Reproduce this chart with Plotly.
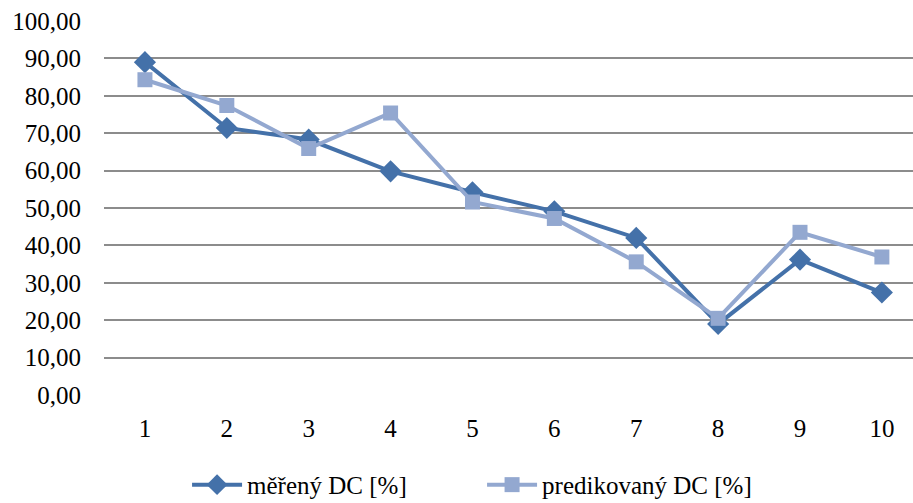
import plotly.graph_objects as go

# Sample index and duty-cycle series
samples = [1, 2, 3, 4, 5, 6, 7, 8, 9, 10]
measured_dc = [89.0, 71.4, 68.3, 59.8, 54.2, 49.1, 42.0, 19.0, 36.2, 27.4]
predicted_dc = [84.3, 77.4, 65.9, 75.4, 51.6, 47.2, 35.6, 20.5, 43.5, 36.9]
y_ticks = [0, 10, 20, 30, 40, 50, 60, 70, 80, 90, 100]

DARK = "#4471A9"
LIGHT = "#93A8D0"
TEXT_FONT = dict(family="Liberation Serif", size=25, color="black")

fig = go.Figure()
fig.add_trace(go.Scatter(
    x=samples, y=measured_dc, name="měřený DC [%]", mode="lines+markers",
    line=dict(color=DARK, width=4),
    marker=dict(symbol="diamond", size=17, color=DARK),
))
fig.add_trace(go.Scatter(
    x=samples, y=predicted_dc, name="predikovaný DC [%]", mode="lines+markers",
    line=dict(color=LIGHT, width=4),
    marker=dict(symbol="square", size=15, color=LIGHT),
))

fig.update_layout(
    width=913, height=503,
    margin=dict(l=104, r=0, t=21, b=108, autoexpand=False),
    paper_bgcolor="white", plot_bgcolor="white",
    separators=",.",
    font=TEXT_FONT,
    showlegend=True,
    legend=dict(
        orientation="h", xref="container", x=0.528, xanchor="center",
        yref="container", y=0.036, yanchor="middle",
        font=TEXT_FONT, itemwidth=50, tracegroupgap=0,
        entrywidth=230, entrywidthmode="pixels",
    ),
)
fig.update_xaxes(
    range=[0.5, 10.38], tickvals=samples, ticktext=[str(s) for s in samples],
    showgrid=False, zeroline=False, showline=False, ticks="",
    tickfont=TEXT_FONT, ticklabelstandoff=16,
)
fig.update_yaxes(
    range=[0, 100], tickvals=y_ticks, tickformat=".2f",
    showgrid=True, gridcolor="#8C8C8C", gridwidth=2,
    zeroline=False, showline=False, ticks="",
    tickfont=TEXT_FONT, ticklabelstandoff=22,
)

fig.write_html("out.html")
